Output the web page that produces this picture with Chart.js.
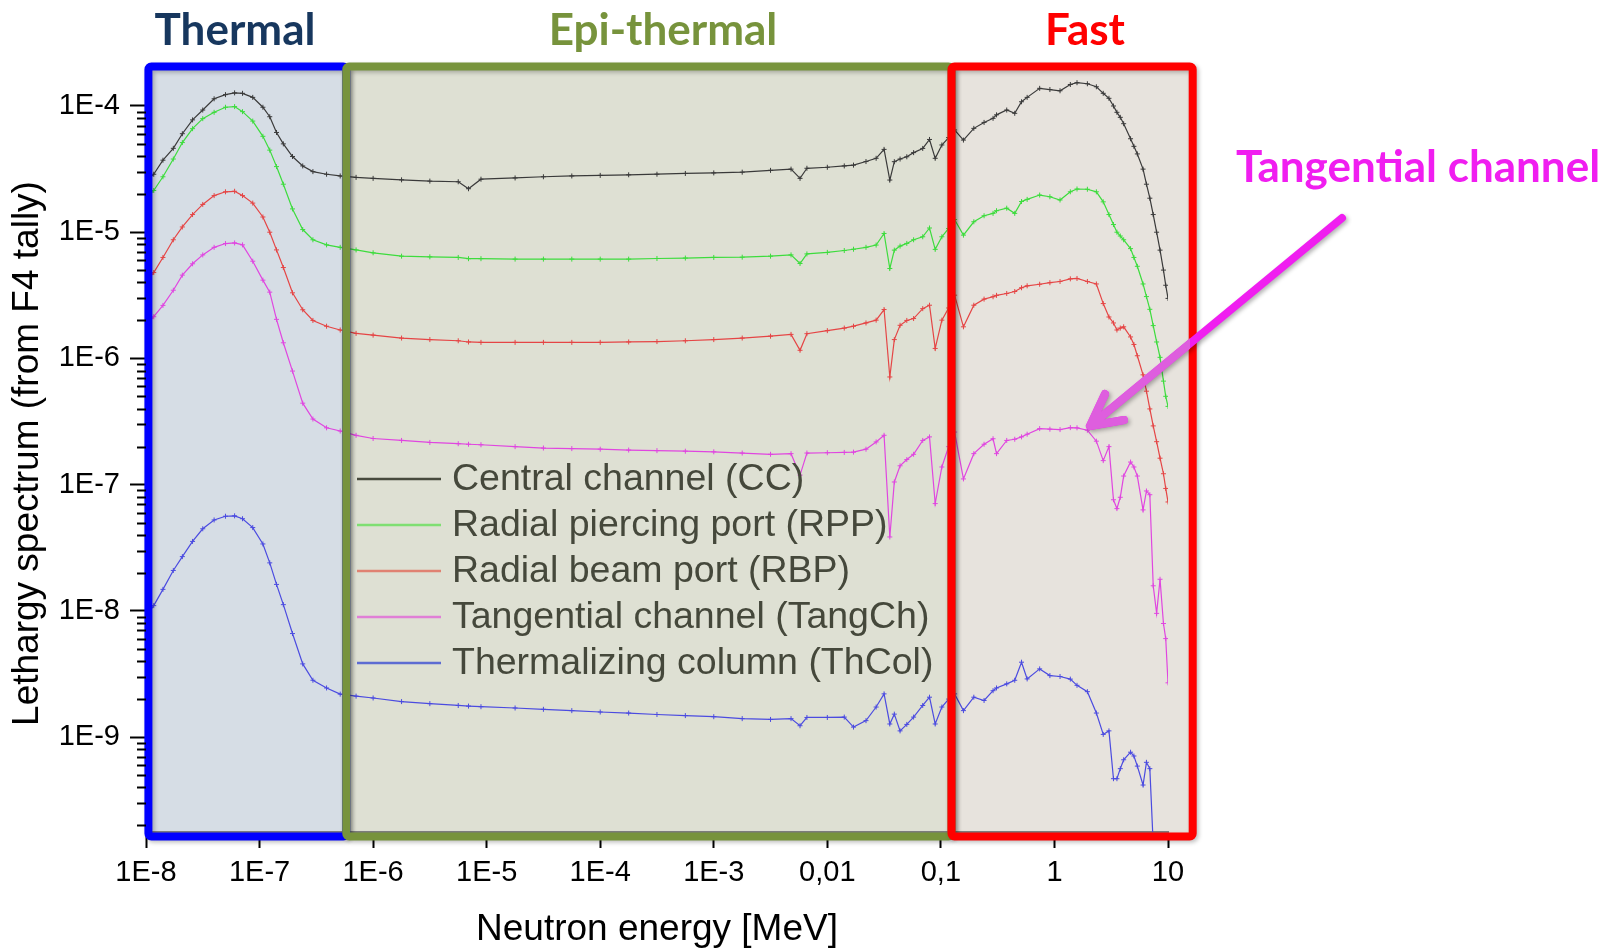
<!DOCTYPE html>
<html lang="en">
<head>
<meta charset="UTF-8">
<title>Neutron lethargy spectra</title>
<script src="https://cdn.jsdelivr.net/npm/chart.js"></script>
<style>
    body {
        margin: 0;
        background: #ffffff;
    }
    #wrap {
        width: 1610px;
        height: 950px;
    }
</style>
</head>
<body>
<div id="wrap"><canvas id="spectrum" width="1610" height="950"></canvas></div>
<script>
// Neutron energy grid [MeV]
const energy = [
    1.0e-8, 1.17e-8, 1.41e-8, 1.74e-8, 2.09e-8, 2.57e-8, 3.16e-8, 3.98e-8, 5.01e-8, 6.03e-8,
    7.08e-8, 8.71e-8, 1.07e-7, 1.23e-7, 1.41e-7, 1.62e-7, 1.95e-7, 2.40e-7, 2.95e-7, 3.89e-7,
    5.13e-7, 7.08e-7, 1.0e-6, 1.78e-6, 3.16e-6, 5.62e-6, 6.92e-6, 8.91e-6, 1.78e-5, 3.16e-5,
    5.62e-5, 1.0e-4, 1.78e-4, 3.16e-4, 5.62e-4, 1.0e-3, 1.78e-3, 3.16e-3, 4.79e-3, 5.75e-3,
    6.61e-3, 0.010, 0.0141, 0.0170, 0.0219, 0.0269, 0.0316, 0.0355, 0.0389, 0.0437,
    0.0501, 0.0575, 0.0692, 0.0794, 0.0891, 0.102, 0.117, 0.132, 0.158, 0.195,
    0.240, 0.288, 0.309, 0.380, 0.447, 0.513, 0.575, 0.741, 0.912, 1.12,
    1.38, 1.58, 1.95, 2.34, 2.69, 3.02, 3.31, 3.55, 3.80, 4.07,
    4.68, 5.01, 5.37, 6.03, 6.46, 6.92, 7.41, 7.94, 8.51, 9.12,
    9.55, 10.0
];

// Lethargy spectrum (from F4 tally), one array per irradiation position
const centralChannel = [
    2.51e-5, 2.88e-5, 3.72e-5, 4.62e-5, 6.03e-5, 7.76e-5, 9.29e-5, 1.14e-4, 1.23e-4, 1.27e-4,
    1.26e-4, 1.17e-4, 9.77e-5, 8.22e-5, 6.17e-5, 5.01e-5, 3.98e-5, 3.35e-5, 3.02e-5, 2.88e-5,
    2.79e-5, 2.72e-5, 2.67e-5, 2.60e-5, 2.54e-5, 2.51e-5, 2.21e-5, 2.63e-5, 2.69e-5, 2.75e-5,
    2.79e-5, 2.82e-5, 2.85e-5, 2.88e-5, 2.92e-5, 2.95e-5, 2.99e-5, 3.09e-5, 3.16e-5, 2.67e-5,
    3.21e-5, 3.27e-5, 3.35e-5, 3.40e-5, 3.63e-5, 3.85e-5, 4.53e-5, 2.59e-5, 3.62e-5, 3.80e-5,
    3.96e-5, 4.27e-5, 4.61e-5, 5.43e-5, 3.85e-5, 4.91e-5, 5.62e-5, 6.46e-5, 5.37e-5, 6.65e-5,
    7.41e-5, 7.98e-5, 8.51e-5, 9.29e-5, 8.75e-5, 1.08e-4, 1.17e-4, 1.38e-4, 1.35e-4, 1.32e-4,
    1.48e-4, 1.53e-4, 1.50e-4, 1.42e-4, 1.26e-4, 1.15e-4, 1.00e-4, 8.91e-5, 8.13e-5, 7.24e-5,
    5.50e-5, 4.79e-5, 4.17e-5, 3.16e-5, 2.40e-5, 1.86e-5, 1.38e-5, 1.00e-5, 7.21e-6, 5.01e-6,
    3.80e-6, 2.99e-6
];
const radialPiercingPort = [
    1.82e-5, 2.14e-5, 2.75e-5, 3.80e-5, 5.13e-5, 6.61e-5, 7.94e-5, 8.91e-5, 9.77e-5, 9.89e-5,
    9.02e-5, 7.59e-5, 5.75e-5, 4.47e-5, 3.31e-5, 2.40e-5, 1.53e-5, 1.05e-5, 8.71e-6, 7.94e-6,
    7.59e-6, 7.24e-6, 6.87e-6, 6.46e-6, 6.38e-6, 6.31e-6, 6.17e-6, 6.17e-6, 6.12e-6, 6.12e-6,
    6.12e-6, 6.12e-6, 6.12e-6, 6.19e-6, 6.24e-6, 6.31e-6, 6.34e-6, 6.46e-6, 6.61e-6, 5.65e-6,
    6.73e-6, 6.92e-6, 7.16e-6, 7.33e-6, 7.59e-6, 7.91e-6, 9.77e-6, 5.16e-6, 7.21e-6, 7.76e-6,
    8.15e-6, 8.71e-6, 9.20e-6, 1.08e-5, 7.31e-6, 9.20e-6, 1.07e-5, 1.26e-5, 9.48e-6, 1.21e-5,
    1.35e-5, 1.41e-5, 1.48e-5, 1.55e-5, 1.41e-5, 1.75e-5, 1.82e-5, 1.97e-5, 1.91e-5, 1.80e-5,
    2.09e-5, 2.20e-5, 2.19e-5, 2.09e-5, 1.74e-5, 1.38e-5, 1.15e-5, 1.00e-5, 9.33e-6, 8.71e-6,
    7.41e-6, 6.31e-6, 5.37e-6, 3.89e-6, 3.09e-6, 2.45e-6, 1.82e-6, 1.35e-6, 1.02e-6, 6.61e-7,
    5.01e-7, 4.17e-7
];
const radialBeamPort = [
    4.07e-6, 4.79e-6, 6.31e-6, 8.71e-6, 1.10e-5, 1.38e-5, 1.66e-5, 1.95e-5, 2.09e-5, 2.11e-5,
    1.95e-5, 1.70e-5, 1.32e-5, 1.00e-5, 7.24e-6, 5.25e-6, 3.31e-6, 2.43e-6, 2.00e-6, 1.80e-6,
    1.68e-6, 1.58e-6, 1.53e-6, 1.45e-6, 1.41e-6, 1.38e-6, 1.35e-6, 1.34e-6, 1.34e-6, 1.34e-6,
    1.34e-6, 1.34e-6, 1.35e-6, 1.36e-6, 1.38e-6, 1.41e-6, 1.45e-6, 1.50e-6, 1.55e-6, 1.16e-6,
    1.57e-6, 1.66e-6, 1.74e-6, 1.80e-6, 1.91e-6, 2.01e-6, 2.44e-6, 7.13e-7, 1.41e-6, 1.83e-6,
    2.00e-6, 2.07e-6, 2.48e-6, 2.64e-6, 1.20e-6, 2.01e-6, 2.51e-6, 3.17e-6, 1.78e-6, 2.64e-6,
    2.95e-6, 3.08e-6, 3.16e-6, 3.27e-6, 3.39e-6, 3.63e-6, 3.76e-6, 3.87e-6, 3.98e-6, 4.07e-6,
    4.27e-6, 4.30e-6, 4.07e-6, 3.89e-6, 2.72e-6, 2.13e-6, 1.91e-6, 1.68e-6, 1.74e-6, 1.78e-6,
    1.48e-6, 1.29e-6, 1.05e-6, 7.41e-7, 5.50e-7, 3.98e-7, 2.92e-7, 2.19e-7, 1.62e-7, 1.22e-7,
    9.33e-8, 7.29e-8
];
const tangentialChannel = [
    1.82e-6, 2.14e-6, 2.63e-6, 3.47e-6, 4.57e-6, 5.62e-6, 6.61e-6, 7.59e-6, 8.13e-6, 8.22e-6,
    7.94e-6, 5.89e-6, 4.17e-6, 3.35e-6, 2.04e-6, 1.33e-6, 7.94e-7, 4.42e-7, 3.31e-7, 2.82e-7,
    2.66e-7, 2.46e-7, 2.32e-7, 2.24e-7, 2.16e-7, 2.11e-7, 2.09e-7, 2.07e-7, 2.00e-7, 1.95e-7,
    1.93e-7, 1.91e-7, 1.88e-7, 1.86e-7, 1.84e-7, 1.82e-7, 1.78e-7, 1.74e-7, 1.76e-7, 1.19e-7,
    1.78e-7, 1.79e-7, 1.80e-7, 1.81e-7, 1.91e-7, 2.18e-7, 2.46e-7, 3.85e-8, 1.05e-7, 1.41e-7,
    1.58e-7, 1.74e-7, 2.24e-7, 2.39e-7, 7.08e-8, 1.38e-7, 2.00e-7, 2.61e-7, 1.11e-7, 1.76e-7,
    2.09e-7, 2.31e-7, 1.76e-7, 2.24e-7, 2.29e-7, 2.39e-7, 2.51e-7, 2.78e-7, 2.75e-7, 2.73e-7,
    2.83e-7, 2.82e-7, 2.70e-7, 2.21e-7, 1.55e-7, 2.00e-7, 7.59e-8, 6.46e-8, 7.94e-8, 1.17e-7,
    1.51e-7, 1.38e-7, 1.17e-7, 6.31e-8, 8.91e-8, 8.32e-8, 1.58e-8, 9.55e-9, 1.78e-8, 7.94e-9,
    6.03e-9, 2.69e-9
];
const thermalizingColumn = [
    9.12e-9, 1.10e-8, 1.48e-8, 2.09e-8, 2.69e-8, 3.55e-8, 4.47e-8, 5.25e-8, 5.62e-8, 5.66e-8,
    5.37e-8, 4.57e-8, 3.39e-8, 2.40e-8, 1.62e-8, 1.12e-8, 6.61e-9, 3.80e-9, 2.82e-9, 2.45e-9,
    2.19e-9, 2.11e-9, 2.04e-9, 1.91e-9, 1.84e-9, 1.78e-9, 1.76e-9, 1.74e-9, 1.70e-9, 1.66e-9,
    1.62e-9, 1.58e-9, 1.55e-9, 1.51e-9, 1.48e-9, 1.45e-9, 1.40e-9, 1.38e-9, 1.40e-9, 1.23e-9,
    1.43e-9, 1.43e-9, 1.44e-9, 1.20e-9, 1.35e-9, 1.73e-9, 2.20e-9, 1.27e-9, 1.52e-9, 1.12e-9,
    1.26e-9, 1.44e-9, 1.78e-9, 2.07e-9, 1.27e-9, 1.73e-9, 2.00e-9, 2.20e-9, 1.62e-9, 2.07e-9,
    1.95e-9, 2.33e-9, 2.45e-9, 2.64e-9, 2.82e-9, 3.92e-9, 2.89e-9, 3.47e-9, 3.07e-9, 3.02e-9,
    2.88e-9, 2.57e-9, 2.29e-9, 1.55e-9, 1.05e-9, 1.12e-9, 4.68e-10, 4.68e-10, 5.62e-10, 6.61e-10,
    7.59e-10, 7.08e-10, 5.89e-10, 4.17e-10, 6.31e-10, 5.62e-10, 1.41e-10, null, null, null,
    null, null
];

const seriesNames = [
    'Central channel (CC)',
    'Radial piercing port (RPP)',
    'Radial beam port (RBP)',
    'Tangential channel (TangCh)',
    'Thermalizing column (ThCol)'
];
const seriesValues = [centralChannel, radialPiercingPort, radialBeamPort, tangentialChannel, thermalizingColumn];

const xTickValues = [1e-8, 1e-7, 1e-6, 1e-5, 1e-4, 1e-3, 0.01, 0.1, 1, 10];
const xTickLabels = ['1E-8', '1E-7', '1E-6', '1E-5', '1E-4', '1E-3', '0,01', '0,1', '1', '10'];
const yTickValues = [1e-9, 1e-8, 1e-7, 1e-6, 1e-5, 1e-4];
const yTickLabels = ['1E-9', '1E-8', '1E-7', '1E-6', '1E-5', '1E-4'];

// energy zones: thermal / epi-thermal / fast [MeV]
const zoneNames = ['Thermal', 'Epi-thermal', 'Fast'];
const zoneEdges = [1.05e-8, 5.8e-7, 0.124, 16.5];

// styles
const lineColors = ['#3a3a3a', '#3ddc3d', '#e54545', '#e046e0', '#4b4be0'];
const legendColors = ['#474a3d', '#7fdf72', '#e08272', '#e07fd6', '#5d6cd2'];
const zoneFills = ['#d6dde5', '#dee0d3', '#e7e3dd'];
const zoneStrokes = ['#0000ff', '#77933c', '#ff0000'];
const zoneTextColors = ['#17375e', '#77933c', '#ff0000'];
const zoneTextX = [235, 663, 1085];

Chart.defaults.font.family = "'Liberation Sans', Arial, sans-serif";
Chart.defaults.color = '#000';

const decor = {
    id: 'decor',
    beforeDraw(chart) {
        const { ctx, chartArea: a, scales: { x } } = chart;
        const top = a.top - 8.5, bottom = a.bottom + 4.5;
        ctx.save();
        for (let i = 0; i < 3; i++) {
            const l = x.getPixelForValue(zoneEdges[i]);
            const r = x.getPixelForValue(zoneEdges[i + 1]);
            ctx.fillStyle = zoneFills[i];
            ctx.fillRect(l, top, r - l, bottom - top);
        }
        ctx.restore();
    },
    afterDatasetsDraw(chart) {
        const { ctx, chartArea: a, scales: { x, y } } = chart;
        const top = a.top - 8.5, bottom = a.bottom + 4.5;

        // zone frames
        ctx.save();
        ctx.lineWidth = 8;
        ctx.lineJoin = 'round';
        ctx.shadowColor = 'rgba(0,0,0,0.25)';
        ctx.shadowBlur = 4;
        ctx.shadowOffsetX = 2;
        ctx.shadowOffsetY = 2;
        for (let i = 0; i < 3; i++) {
            const l = x.getPixelForValue(zoneEdges[i]);
            const r = x.getPixelForValue(zoneEdges[i + 1]);
            ctx.strokeStyle = zoneStrokes[i];
            ctx.beginPath();
            ctx.roundRect(l, top, r - l, bottom - top, 3);
            ctx.stroke();
        }
        ctx.restore();

        // minor ticks on the y axis
        ctx.save();
        ctx.strokeStyle = '#000';
        ctx.lineWidth = 2;
        ctx.beginPath();
        const decades = [1e-10].concat(yTickValues);
        decades.forEach(d => {
            for (let m = 2; m <= 9; m++) {
                const v = d * m;
                if (v < y.min || v > y.max) continue;
                const py = Math.round(y.getPixelForValue(v)) + 0.5;
                ctx.moveTo(a.left - 9, py);
                ctx.lineTo(a.left, py);
            }
        });
        ctx.stroke();
        ctx.restore();

        // legend inside the plot
        ctx.save();
        ctx.font = "37.5px 'Liberation Sans', Arial, sans-serif";
        ctx.textBaseline = 'middle';
        chart.data.datasets.forEach((ds, i) => {
            const py = 479 + i * 46;
            ctx.strokeStyle = legendColors[i];
            ctx.lineWidth = 2.5;
            ctx.beginPath();
            ctx.moveTo(357, py);
            ctx.lineTo(441, py);
            ctx.stroke();
            ctx.fillStyle = '#45483b';
            ctx.fillText(ds.label, 452, py + 1);
        });
        ctx.restore();
    },
    afterDraw(chart) {
        const { ctx } = chart;
        ctx.save();
        ctx.font = "bold 44px Lato, 'Open Sans', sans-serif";
        ctx.textAlign = 'center';
        ctx.textBaseline = 'alphabetic';
        zoneNames.forEach((name, i) => {
            ctx.fillStyle = zoneTextColors[i];
            ctx.fillText(name, zoneTextX[i], 45);
        });
        ctx.fillStyle = '#f01ef0';
        ctx.fillText('Tangential channel', 1418, 182);

        // arrow pointing at the tangential channel curve
        const arrow = () => {
            ctx.beginPath();
            ctx.moveTo(1342, 218);
            ctx.lineTo(1090, 426);
            ctx.moveTo(1105, 394);
            ctx.lineTo(1090, 426);
            ctx.lineTo(1124, 420);
            ctx.stroke();
        };
        ctx.lineCap = 'round';
        ctx.lineJoin = 'round';
        ctx.lineWidth = 8;
        ctx.shadowColor = 'rgba(0,0,0,0.3)';
        ctx.shadowBlur = 4;
        ctx.shadowOffsetX = 2;
        ctx.shadowOffsetY = 2;
        ctx.strokeStyle = '#f01ef0';
        arrow();
        ctx.shadowColor = 'transparent';
        ctx.beginPath();
        ctx.rect(0, 0, 1190, 950);
        ctx.clip();
        ctx.strokeStyle = '#de5ede';
        arrow();
        ctx.restore();
    }
};

const datasets = seriesNames.map((name, k) => ({
    label: name,
    data: energy.map((e, i) => ({ x: e, y: seriesValues[k][i] })),
    borderColor: lineColors[k],
    backgroundColor: lineColors[k],
    borderWidth: 1.2,
    pointStyle: 'cross',
    pointRadius: 2.5,
    pointBorderWidth: 1,
    tension: 0,
    spanGaps: false
}));

new Chart(document.getElementById('spectrum'), {
    type: 'line',
    data: { datasets },
    options: {
        responsive: false,
        animation: false,
        events: [],
        layout: { padding: { top: 75, right: 442, bottom: 0, left: 0 } },
        plugins: {
            legend: { display: false },
            tooltip: { enabled: false }
        },
        scales: {
            x: {
                type: 'logarithmic',
                min: 1e-8,
                max: 10,
                afterBuildTicks: s => { s.ticks = xTickValues.map(v => ({ value: v })); },
                afterFit: s => { s.height = 118; },
                ticks: {
                    autoSkip: false,
                    maxRotation: 0,
                    padding: 8,
                    font: { size: 29 },
                    callback: (v, i) => xTickLabels[i]
                },
                grid: { drawOnChartArea: false, tickLength: 16, tickWidth: 2, tickColor: '#000' },
                border: { display: true, color: '#7f7f7f', width: 2 },
                title: {
                    display: true,
                    text: 'Neutron energy [MeV]',
                    font: { size: 37, lineHeight: 1.1 },
                    padding: { top: 0, bottom: 0 }
                }
            },
            y: {
                type: 'logarithmic',
                min: 1.77e-10,
                max: 1.76e-4,
                afterBuildTicks: s => { s.ticks = yTickValues.map(v => ({ value: v })); },
                afterFit: s => { s.width = 146; },
                ticks: {
                    autoSkip: false,
                    padding: 10,
                    font: { size: 29 },
                    callback: (v, i) => yTickLabels[i]
                },
                grid: { drawOnChartArea: false, tickLength: 16, tickWidth: 2, tickColor: '#000' },
                border: { display: true, color: '#000', width: 2 },
                title: {
                    display: true,
                    text: 'Lethargy spectrum (from F4 tally)',
                    font: { size: 37 },
                    padding: { top: 6, bottom: 0 }
                }
            }
        }
    },
    plugins: [decor]
});
</script>
</body>
</html>
